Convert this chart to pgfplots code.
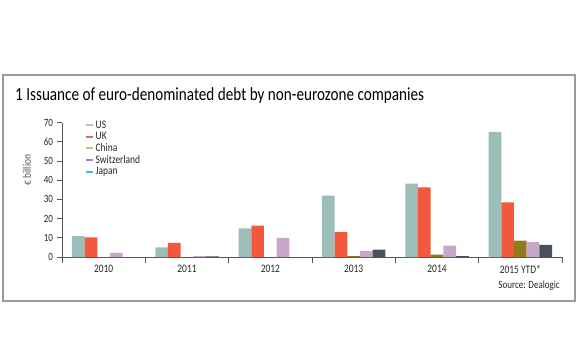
\documentclass[border=0pt]{standalone}
\usepackage{pgfplots}
\pgfplotsset{compat=1.18}
\usepackage{fontspec}
\setmainfont{Carlito}
\newfontfamily\condfont[FakeStretch=0.82]{Carlito}
\definecolor{cUS}{HTML}{9DBDB9}
\definecolor{cUK}{HTML}{F2583E}
\definecolor{cCN}{HTML}{8F7B1D}
\definecolor{cCH}{HTML}{C8A8C8}
\definecolor{cJP}{HTML}{4B5158}
\definecolor{lUS}{HTML}{A9C7C4}
\definecolor{lUK}{HTML}{E06A6A}
\definecolor{lCN}{HTML}{B5C97A}
\definecolor{lCH}{HTML}{9C88B8}
\definecolor{lJP}{HTML}{4DB8CC}
\definecolor{axcol}{HTML}{555555}
\definecolor{boxcol}{HTML}{9A9A9A}
\pgfplotsset{
  legdash/.style={legend image code/.code={\draw[#1, line width=2bp] (0bp,0bp) -- (6.5bp,0bp);}}
}
\begin{document}
\begin{tikzpicture}[x=1bp,y=1bp]
\path[use as bounding box] (0,0) rectangle (580,358);
\draw[boxcol, line width=1.5bp] (3,283) rectangle (575,57);
\node[anchor=base west, inner sep=0pt, font=\condfont\fontsize{18.5bp}{20bp}\selectfont] at (15,358-100) {1 Issuance of euro-denominated debt by non-eurozone companies};
\node[rotate=90, inner sep=0pt, font=\condfont\fontsize{11.5bp}{12bp}\selectfont, text=axcol] at (27,358-170) {€ billion};
\node[anchor=base east, inner sep=0pt, font=\condfont\fontsize{11bp}{12bp}\selectfont, text=black!85] at (560,358-288) {Source: Dealogic};
\begin{axis}[
  at={(62bp,101bp)}, anchor=south west,
  scale only axis, width=500bp, height=134.4bp,
  xmin=-0.5, xmax=5.5, ymin=0, ymax=70,
  axis x line*=bottom, axis y line*=left,
  axis line style={axcol, line width=0.8bp},
  every tick/.style={axcol, line width=0.8bp},
  tick align=outside, major tick length=5.5bp,
  xtick={-0.5,0.5,1.5,2.5,3.5,4.5,5.5},
  x tick label as interval,
  xticklabels={2010,2011,2012,2013,2014,2015 YTD*},
  ytick={0,10,...,70},
  /pgf/number format/assume math mode=true,
  ticklabel style={font=\condfont\fontsize{11.5bp}{12bp}\selectfont, text=black!85},
  yticklabel style={font=\condfont\fontsize{11bp}{12bp}\selectfont},
  x tick label style={yshift=1bp},
  legend style={at={(0.046,1.03)}, anchor=north west, draw=none, fill=none,
    font=\condfont\fontsize{11.5bp}{12bp}\selectfont, row sep=-1.6bp, inner sep=0pt, text=black!85},
  legend cell align=left,
]
\addlegendimage{legdash=lUS}\addlegendentry{US}
\addlegendimage{legdash=lUK}\addlegendentry{UK}
\addlegendimage{legdash=lCN}\addlegendentry{China}
\addlegendimage{legdash=lCH}\addlegendentry{Switzerland}
\addlegendimage{legdash=lJP}\addlegendentry{Japan}
\addplot[ybar, bar width=12.7bp, fill=cUS, draw=none, bar shift=-25.4bp, forget plot] coordinates {(0,10.9) (1,5.0) (2,14.9) (3,32.0) (4,38.2) (5,65.2)};
\addplot[ybar, bar width=12.7bp, fill=cUK, draw=none, bar shift=-12.7bp, forget plot] coordinates {(0,10.2) (1,7.3) (2,16.3) (3,13.0) (4,36.3) (5,28.5)};
\addplot[ybar, bar width=12.7bp, fill=cCN, draw=none, bar shift=0bp, forget plot] coordinates {(0,0) (1,0) (2,0) (3,0.5) (4,1.2) (5,8.5)};
\addplot[ybar, bar width=12.7bp, fill=cCH, draw=none, bar shift=12.7bp, forget plot] coordinates {(0,2.2) (1,0.5) (2,10.0) (3,3.0) (4,5.9) (5,7.8)};
\addplot[ybar, bar width=12.7bp, fill=cJP, draw=none, bar shift=25.4bp, forget plot] coordinates {(0,0) (1,0.3) (2,0) (3,3.9) (4,0.5) (5,6.3)};
\end{axis}
\end{tikzpicture}
\end{document}
